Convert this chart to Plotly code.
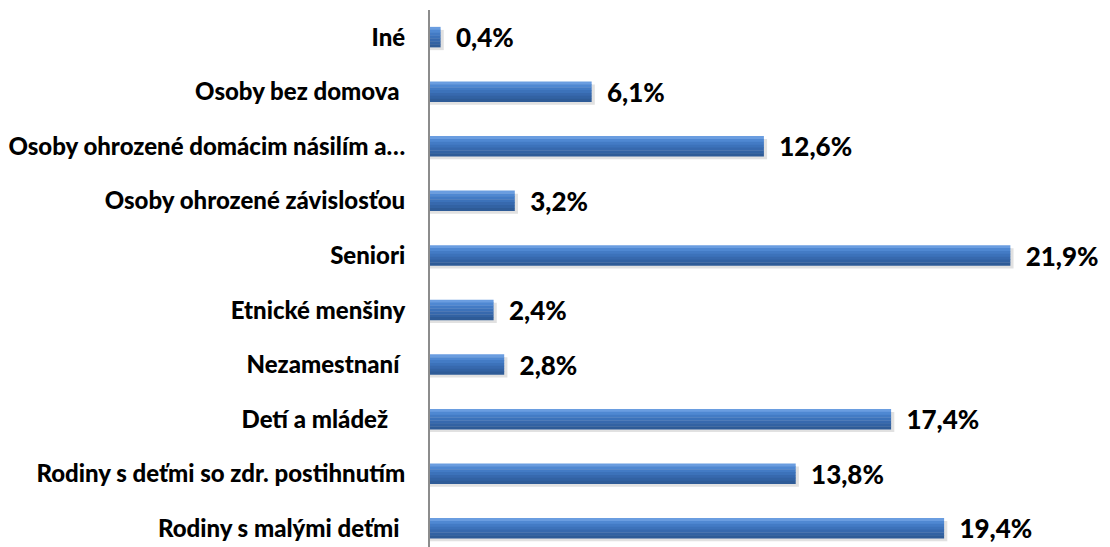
import plotly.graph_objects as go

categories = [
    "Rodiny s malými deťmi",
    "Rodiny s deťmi so zdr. postihnutím",
    "Detí a mládež",
    "Nezamestnaní",
    "Etnické menšiny",
    "Seniori",
    "Osoby ohrozené závislosťou",
    "Osoby ohrozené domácim násilím a…",
    "Osoby bez domova",
    "Iné",
]
values = [19.4, 13.8, 17.4, 2.8, 2.4, 21.9, 3.2, 12.6, 6.1, 0.4]
value_labels = ["19,4%", "13,8%", "17,4%", "2,8%", "2,4%", "21,9%", "3,2%", "12,6%", "6,1%", "0,4%"]
trailing = {"Rodiny s malými deťmi": 1, "Osoby bez domova": 1, "Nezamestnaní": 1, "Detí a mládež": 3}

tick_text = [c + "\u00a0" * trailing.get(c, 0) for c in categories]

fig = go.Figure()

bar_w = 0.37
# soft shadow
fig.add_trace(go.Bar(
    y=categories, x=[v + 0.12 for v in values], orientation="h",
    width=bar_w, offset=-bar_w / 2 - 0.05,
    marker=dict(color="rgba(120,120,120,0.22)", line=dict(width=0)),
    hoverinfo="skip", showlegend=False,
))
# gradient stripes (top light -> bottom dark)
stripe_colors = ["#6a9de0", "#4f88d2", "#437bc5", "#3c72ba", "#3769ae", "#3262a3", "#2e5b97"]
n = len(stripe_colors)
sw = bar_w / n
for i, col in enumerate(stripe_colors):
    fig.add_trace(go.Bar(
        y=categories, x=values, orientation="h",
        width=sw + 0.006, offset=bar_w / 2 - (i + 1) * sw,
        marker=dict(color=col, line=dict(width=0)),
        hoverinfo="skip", showlegend=False,
    ))
# value labels
fig.add_trace(go.Bar(
    y=categories, x=values, orientation="h",
    width=bar_w, offset=-bar_w / 2,
    marker=dict(color="rgba(0,0,0,0)", line=dict(width=0)),
    text=["\u00a0\u00a0" + t for t in value_labels],
    textposition="outside", cliponaxis=False, constraintext="none",
    textfont=dict(family="Lato", size=26, color="black", weight=900),
    hoverinfo="skip", showlegend=False,
))

fig.update_layout(
    width=1102, height=539,
    margin=dict(l=420, r=0, t=2, b=0),
    barmode="overlay",
    plot_bgcolor="white", paper_bgcolor="white",
    xaxis=dict(range=[0, 25.66], visible=False),
    yaxis=dict(
        type="category", categoryorder="array", categoryarray=categories,
        tickvals=categories, ticktext=tick_text,
        range=[-0.34, 9.5],
        showline=True, linecolor="#8c8c8c", linewidth=2,
        ticks="", ticklabelstandoff=18,
        tickfont=dict(family="Lato", size=24, color="black", weight=900),
        showgrid=False, zeroline=False,
    ),
)

fig.write_html("out.html")
